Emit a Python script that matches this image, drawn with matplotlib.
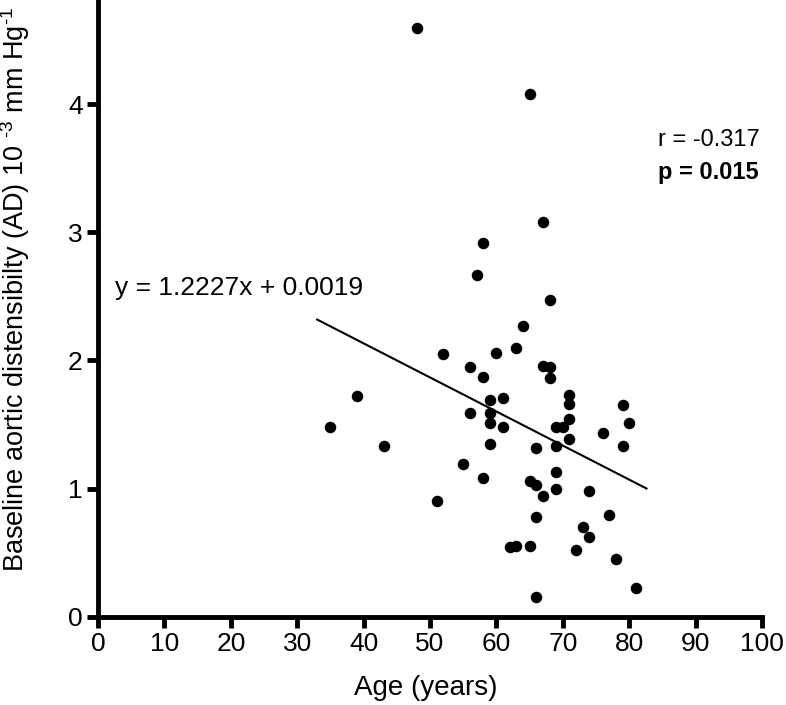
import matplotlib
matplotlib.use("Agg")
import matplotlib.pyplot as plt

plt.rcParams['font.family'] = ['Liberation Sans', 'DejaVu Sans']
plt.rcParams['mathtext.fontset'] = 'custom'
plt.rcParams['mathtext.rm'] = 'Liberation Sans'
plt.rcParams['mathtext.it'] = 'Liberation Sans:italic'
plt.rcParams['mathtext.bf'] = 'Liberation Sans:bold'

age = [48, 65, 67, 58, 57, 68, 64, 63, 60, 52, 67, 68, 56, 58, 68, 39, 71, 59, 61,
       71, 79, 56, 59, 59, 80, 71, 35, 61, 69, 70, 76, 71, 59, 43, 66, 69, 79, 55,
       69, 58, 65, 66, 69, 74, 67, 51, 66, 77, 73, 74, 62, 63, 65, 72, 78, 81, 66]
ad = [4.60, 4.08, 3.08, 2.92, 2.67, 2.47, 2.27, 2.10, 2.06, 2.05, 1.96, 1.95, 1.95,
      1.87, 1.86, 1.72, 1.73, 1.69, 1.71, 1.66, 1.65, 1.59, 1.59, 1.51, 1.51, 1.54,
      1.48, 1.48, 1.48, 1.48, 1.43, 1.39, 1.35, 1.33, 1.32, 1.33, 1.33, 1.19, 1.13,
      1.08, 1.06, 1.03, 1.00, 0.98, 0.94, 0.90, 0.78, 0.79, 0.70, 0.62, 0.54, 0.55,
      0.55, 0.52, 0.45, 0.22, 0.15]

fit_x = [33, 82.6]
fit_y = [2.32, 1.00]

x_ticks = [0, 10, 20, 30, 40, 50, 60, 70, 80, 90, 100]
y_ticks = [0, 1, 2, 3, 4]

fig = plt.figure(figsize=(7.86, 7.05), dpi=100)
ax = fig.add_axes([0.1247, 0.1255, 0.8448, 0.8745])

ax.plot(age, ad, 'o', color='black', markersize=8.3, markeredgewidth=0, clip_on=False)
ax.plot(fit_x, fit_y, '-', color='black', linewidth=1.5)

ax.set_xlim(0, 100)
ax.set_ylim(0, 4.816)
ax.set_xticks(x_ticks)
ax.set_yticks(y_ticks)

for s in ['top', 'right']:
    ax.spines[s].set_visible(False)
for s in ['left', 'bottom']:
    ax.spines[s].set_linewidth(3.5)
    ax.spines[s].set_capstyle('projecting')

ax.tick_params(axis='both', direction='out', width=3.5, length=8, labelsize=19, pad=3)

ax.set_xlabel('Age (years)', fontsize=20)
ax.xaxis.set_label_coords(0.494, -0.095)
ax.set_ylabel(r'Baseline aortic distensibilty (AD) 10 $^{\text{-3}}$ mm Hg$^{\text{-1}}$',
              fontsize=19.5)
ax.yaxis.set_label_coords(-0.099, 0.53)

ax.text(2.5, 2.57, 'y = 1.2227x + 0.0019', fontsize=19, ha='left', va='center')
ax.text(84.3, 3.72, 'r = -0.317', fontsize=17, ha='left', va='center')
ax.text(84.3, 3.47, 'p = 0.015', fontsize=17, ha='left', va='center', fontweight='bold')

fig.savefig('out.png', dpi=100)
